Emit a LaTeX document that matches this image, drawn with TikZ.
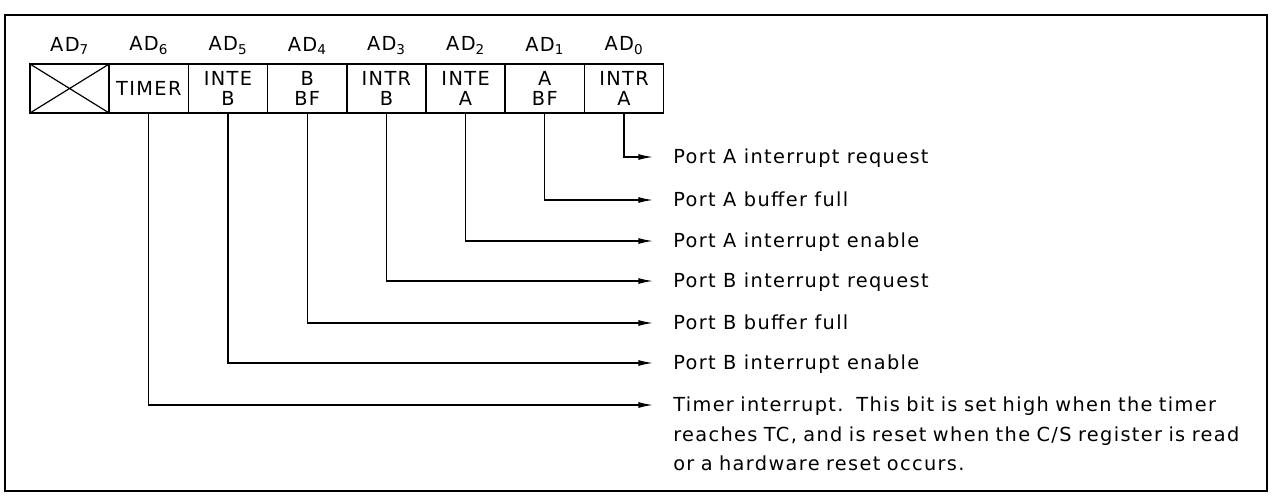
\documentclass[tikz,border=0pt]{standalone}
\usepackage{fontspec}
\setmainfont{DejaVu Sans}[LetterSpace=7]
\usetikzlibrary{arrows.meta, positioning}

\tikzset{
  regcell/.style={draw, line width=1.1pt, minimum width=59.4pt, minimum height=36.75pt,
    inner sep=0pt, outer sep=0pt, align=center, font=\fontsize{14.5}{15}\selectfont},
  adlabel/.style={inner sep=0pt, font=\fontsize{14.5}{15}\selectfont},
  desc/.style={anchor=west, inner sep=0pt, text height=10.4pt, text depth=0pt,
    font=\fontsize{14.5}{16}\selectfont},
  bitline/.style={line width=1pt, -{Latex[length=11pt, width=4.5pt]}},
}

\begin{document}
\begin{tikzpicture}[x=0.75pt, y=-0.75pt]
  \useasboundingbox (0,0) rectangle (1272,503);
  % outer frame
  \draw[line width=1.8pt] (5,15) rectangle (1267,491);

  % status register cells
  \node[regcell, anchor=north west] (c7) at (30,64) {};
  \node[regcell, right=0pt of c7] (c6) {TIMER};
  \node[regcell, right=0pt of c6] (c5) {INTE\\B};
  \node[regcell, right=0pt of c5] (c4) {B\\BF};
  \node[regcell, right=0pt of c4] (c3) {INTR\\B};
  \node[regcell, right=0pt of c3] (c2) {INTE\\A};
  \node[regcell, right=0pt of c2] (c1) {A\\BF};
  \node[regcell, right=0pt of c1] (c0) {INTR\\A};
  \draw[line width=0.9pt] (c7.north west) -- (c7.south east) (c7.south west) -- (c7.north east);

  % bit names
  \foreach \b in {0,...,7} {
    \node[adlabel, above=7pt of c\b] (ad\b) {AD\textsubscript{\b}};
  }

  % descriptions
  \node[desc] (d0) at (673,157) {Port A interrupt request};
  \node[desc] (d1) at (673,200) {Port A buffer full};
  \node[desc] (d2) at (673,241) {Port A interrupt enable};
  \node[desc] (d3) at (673,281) {Port B interrupt request};
  \node[desc] (d4) at (673,323) {Port B buffer full};
  \node[desc] (d5) at (673,363) {Port B interrupt enable};
  \node[anchor=north west, inner sep=0pt, text width=470pt, align=left,
    font=\fontsize{14.5}{22}\selectfont] (d6) at (673,397)
    {Timer interrupt.\ \ This bit is set high when the timer\\
     reaches TC, and is reset when the C/S register is read\\
     or a hardware reset occurs.};

  % connectors
  \foreach \b in {0,...,5} {
    \draw[bitline] (c\b.south) |- ([xshift=-15pt]d\b.west);
  }
  \draw[bitline] (c6.south) |- ([xshift=-15pt, yshift=-6pt]d6.north west);
\end{tikzpicture}
\end{document}
